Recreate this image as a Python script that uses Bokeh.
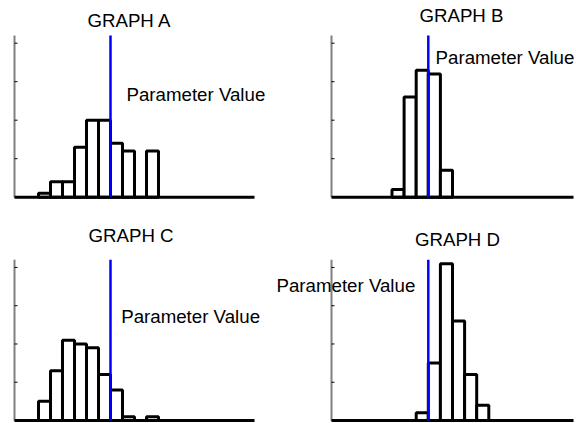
from bokeh.plotting import figure
from bokeh.models import Label
from bokeh.layouts import column, row
from bokeh.embed import file_html
from bokeh.resources import INLINE

# ---- data (counts per unit-wide bin) ----
graph_titles = ["GRAPH A", "GRAPH B", "GRAPH C", "GRAPH D"]
a_start = 2
a_counts = [1, 4, 4, 13, 20, 20, 14, 12, 0, 12]
b_start = 5
b_counts = [2, 26, 33, 32, 7]
c_start = 2
c_counts = [5, 13, 21, 20, 19, 12, 8, 1, 0, 1]
d_start = 7
d_counts = [2, 15, 41, 26, 12, 4]
param_value = 8
param_label = "Parameter Value"
x_min, x_max = 0, 20
y_min, y_max = 0, 42
y_ticks = [0, 10, 20, 30, 40]

FONT = "Liberation Sans"
FSIZE = "18.7px"


def panel(title, start, counts, width, height, axl, axr, axt, axb,
          title_x, title_y, lab_x, lab_y):
    # axis box (axl..axr, axt..axb) in figure pixels; ranges chosen so the
    # data box [x_min,x_max]x[y_min,y_max] lands on it
    xs = (axr - axl) / (x_max - x_min)
    ys = (axb - axt) / (y_max - y_min)
    xr = (x_min - axl / xs, x_max + (width - axr) / xs)
    yr = (y_min - (height - axb) / ys, y_max + axt / ys)
    p = figure(width=width, height=height, x_range=xr, y_range=yr,
               output_backend="svg", toolbar_location=None,
               x_axis_location=None, y_axis_location=None,
               min_border=0)
    p.outline_line_color = None
    p.grid.visible = False
    p.background_fill_color = "white"
    p.border_fill_color = "white"

    lefts = [start + i for i in range(len(counts))]
    rights = [start + i + 1 for i in range(len(counts))]
    p.quad(left=lefts, right=rights, bottom=0, top=counts,
           fill_color="white", line_color="black", line_width=3)

    # y axis (grey line with short inward ticks)
    p.segment(x0=[x_min], y0=[y_min], x1=[x_min], y1=[y_max],
              line_color="#808080", line_width=2)
    tick_len = 3 / xs
    p.segment(x0=[x_min] * len(y_ticks), y0=y_ticks,
              x1=[x_min + tick_len] * len(y_ticks), y1=y_ticks,
              line_color="black", line_width=1)
    # x axis (thick black)
    p.segment(x0=[x_min], y0=[y_min], x1=[x_max], y1=[y_min],
              line_color="black", line_width=3)

    # parameter value line
    p.segment(x0=[param_value], y0=[y_min], x1=[param_value], y1=[y_max],
              line_color="#0000ff", line_width=2.5)

    p.add_layout(Label(x=title_x, y=title_y, text=title, text_font=FONT,
                       text_font_size=FSIZE, text_align="center",
                       text_baseline="alphabetic", text_color="black"))
    p.add_layout(Label(x=lab_x, y=lab_y, text=param_label, text_font=FONT,
                       text_font_size=FSIZE, text_align="left",
                       text_baseline="alphabetic", text_color="black"))
    return p


pa = panel(graph_titles[0], a_start, a_counts, 270, 210, 14, 254, 35, 196.7,
           9.58, 45.97, 9.33, 26.67)
pb = panel(graph_titles[1], b_start, b_counts, 306, 210, 61, 303, 35, 196.7,
           10.74, 47.07, 8.6, 36.17)
pc = panel(graph_titles[2], c_start, c_counts, 270, 213, 14, 254, 49.3, 210,
           9.71, 48.29, 8.89, 27.29)
pd = panel(graph_titles[3], d_start, d_counts, 306, 213, 61, 303, 49.3, 210,
           10.41, 47.39, -4.55, 35.19)

layout = column(row(pa, pb), row(pc, pd))
open("out.html", "w").write(file_html(layout, INLINE))
